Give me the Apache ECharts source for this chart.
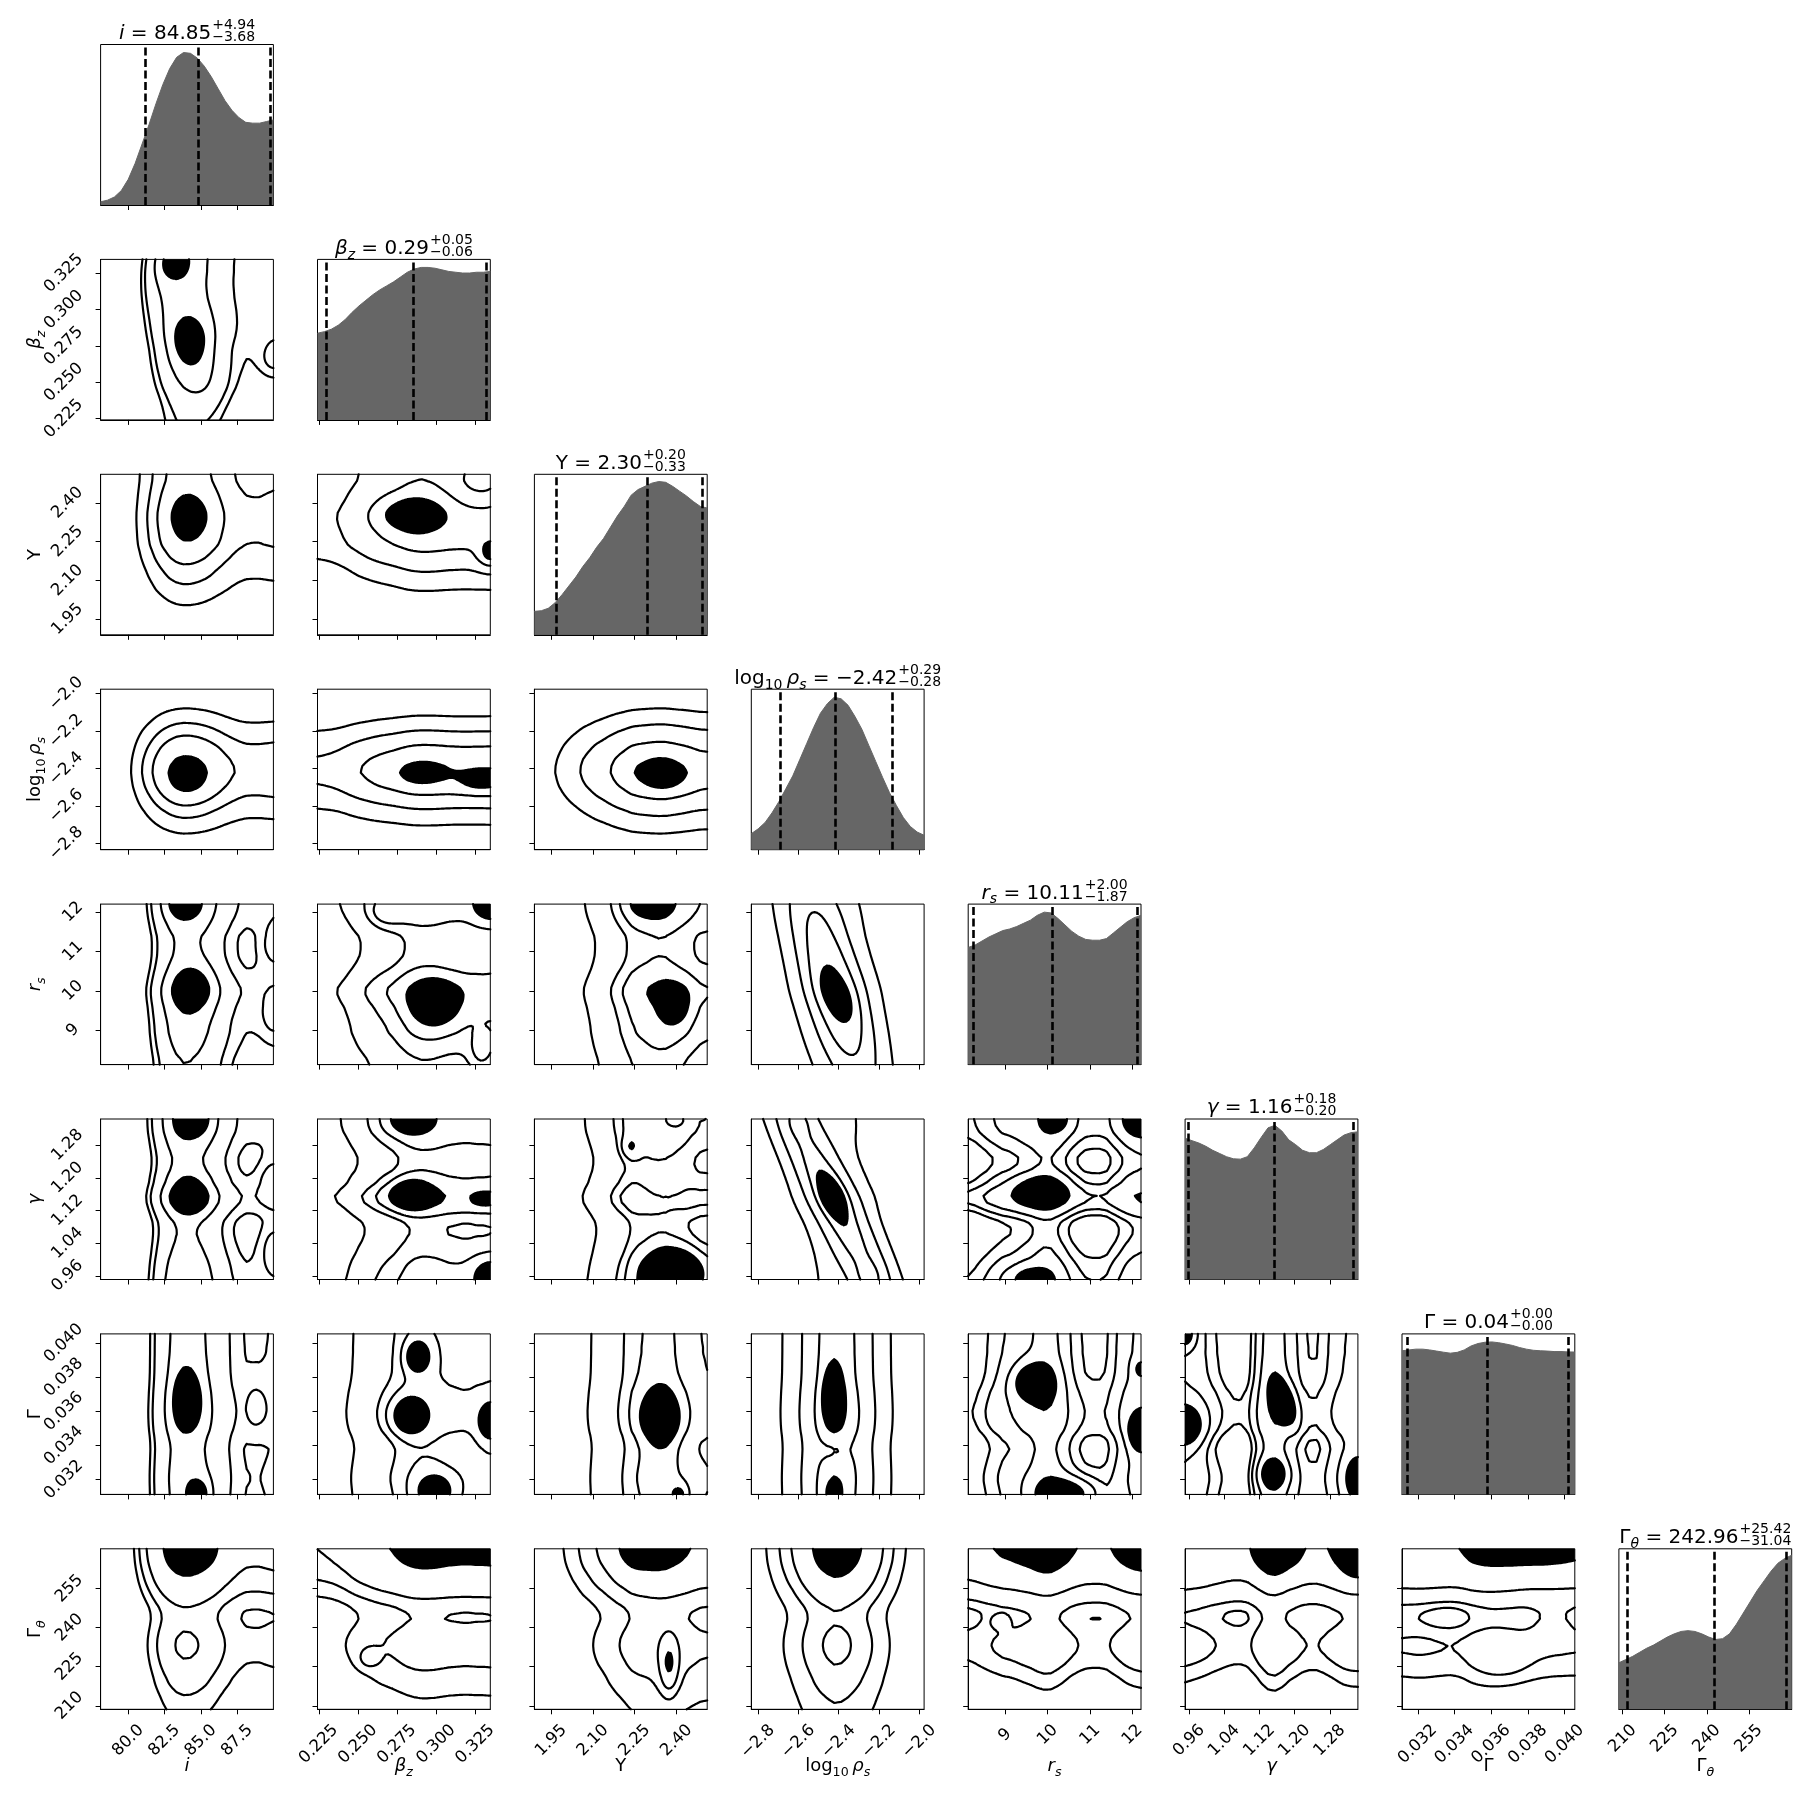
<!DOCTYPE html>
<html>
<head>
<meta charset="utf-8">
<script src="https://cdn.jsdelivr.net/npm/echarts@6/dist/echarts.min.js"></script>
<style>
html, body { margin: 0; padding: 0; background: #fff; }
#main { width: 1809px; height: 1809px; }
</style>
</head>
<body>
<div id="main"></div>
<script>
// ---- parameters: axis ranges, ticks ----
const rangeMin = [78.1, 0.2242, 1.89, -2.833, 8.125, 0.951, 0.03114, 208.65];
const rangeMax = [90.0, 0.3346, 2.51, -1.976, 12.2, 1.344, 0.04055, 270.3];
const tickValues = [
  [80, 82.5, 85, 87.5],
  [0.225, 0.25, 0.275, 0.3, 0.325],
  [1.95, 2.1, 2.25, 2.4],
  [-2.8, -2.6, -2.4, -2.2, -2.0],
  [9, 10, 11, 12],
  [0.96, 1.04, 1.12, 1.2, 1.28],
  [0.032, 0.034, 0.036, 0.038, 0.040],
  [210, 225, 240, 255]
];
const tickLabels = [
  ['80.0', '82.5', '85.0', '87.5'],
  ['0.225', '0.250', '0.275', '0.300', '0.325'],
  ['1.95', '2.10', '2.25', '2.40'],
  ['\u22122.8', '\u22122.6', '\u22122.4', '\u22122.2', '\u22122.0'],
  ['9', '10', '11', '12'],
  ['0.96', '1.04', '1.12', '1.20', '1.28'],
  ['0.032', '0.034', '0.036', '0.038', '0.040'],
  ['210', '225', '240', '255']
];
// axis names as math pieces: [text, style] (i = italic, n = normal, sub / isub = subscript)
const labelParts = [
  [['i', 'i']],
  [['\u03b2', 'i'], ['z', 'isub']],
  [['Y', 'n']],
  [['log', 'n'], ['10', 'sub'], ['\u2009', 'n'], ['\u03c1', 'i'], ['s', 'isub']],
  [['r', 'i'], ['s', 'isub']],
  [['\u03b3', 'i']],
  [['\u0393', 'n']],
  [['\u0393', 'n'], ['\u03b8', 'isub']]
];

// ---- 1D marginals (height as fraction of panel, 26 evenly spaced points across the axis range) ----
const histI = [0.02, 0.03, 0.05, 0.09, 0.16, 0.26, 0.38, 0.50, 0.63, 0.75, 0.85, 0.92, 0.95, 0.945, 0.915, 0.865, 0.80, 0.725, 0.65, 0.59, 0.545, 0.515, 0.51, 0.51, 0.52, 0.53];
const histBeta = [0.54, 0.55, 0.565, 0.59, 0.625, 0.67, 0.71, 0.745, 0.78, 0.81, 0.835, 0.86, 0.89, 0.92, 0.94, 0.95, 0.95, 0.945, 0.935, 0.925, 0.92, 0.915, 0.915, 0.92, 0.92, 0.925];
const histY = [0.146, 0.15, 0.165, 0.20, 0.25, 0.305, 0.36, 0.425, 0.48, 0.545, 0.60, 0.67, 0.74, 0.80, 0.87, 0.905, 0.925, 0.945, 0.955, 0.95, 0.925, 0.895, 0.865, 0.83, 0.80, 0.79];
const histRho = [0.10, 0.13, 0.17, 0.23, 0.30, 0.38, 0.46, 0.56, 0.66, 0.76, 0.85, 0.91, 0.95, 0.94, 0.90, 0.83, 0.75, 0.65, 0.55, 0.45, 0.355, 0.275, 0.20, 0.145, 0.11, 0.09];
const histRs = [0.73, 0.745, 0.77, 0.795, 0.815, 0.835, 0.845, 0.86, 0.88, 0.90, 0.93, 0.95, 0.945, 0.91, 0.87, 0.83, 0.80, 0.78, 0.775, 0.775, 0.785, 0.82, 0.855, 0.89, 0.915, 0.93];
const histGamma = [0.88, 0.865, 0.85, 0.83, 0.805, 0.785, 0.765, 0.752, 0.75, 0.765, 0.82, 0.885, 0.945, 0.96, 0.925, 0.87, 0.84, 0.805, 0.79, 0.79, 0.81, 0.84, 0.87, 0.90, 0.915, 0.92];
const histG = [0.895, 0.9, 0.905, 0.905, 0.9, 0.893, 0.886, 0.88, 0.885, 0.9, 0.925, 0.94, 0.948, 0.95, 0.945, 0.937, 0.928, 0.915, 0.905, 0.898, 0.895, 0.893, 0.89, 0.89, 0.888, 0.887];
const histGth = [0.29, 0.31, 0.33, 0.355, 0.38, 0.40, 0.425, 0.45, 0.47, 0.485, 0.49, 0.485, 0.47, 0.45, 0.435, 0.44, 0.47, 0.53, 0.60, 0.67, 0.74, 0.80, 0.86, 0.91, 0.94, 0.96];
const hists = [histI, histBeta, histY, histRho, histRs, histGamma, histG, histGth];

// quantiles (16 / 50 / 84 %) and title strings
const q16 = [81.17, 0.2296, 1.968, -2.69, 8.235, 0.959, 0.03142, 211.7];
const q50 = [84.85, 0.2853, 2.295, -2.416, 10.10, 1.154, 0.03577, 242.8];
const q84 = [89.79, 0.3322, 2.494, -2.136, 12.107, 1.334, 0.04021, 268.5];
const titleMedian = ['84.85', '0.29', '2.30', '\u22122.42', '10.11', '1.16', '0.04', '242.96'];
const titlePlus = ['4.94', '0.05', '0.20', '0.29', '2.00', '0.18', '0.00', '25.42'];
const titleMinus = ['3.68', '0.06', '0.33', '0.28', '1.87', '0.20', '0.00', '31.04'];

// ---- 2D local density peaks: [x, y, sx, sy, amp, rho] in data units ----
const peaksBI = [[84.29, 0.2772, 0.95, 0.0121, 0.35, 0], [83.1, 0.3324, 0.83, 0.0088, 0.35, 0], [85.2, 0.2463, 1.43, 0.0166, 0.2, 0], [81.7, 0.3180, 0.95, 0.0166, 0.15, 0], [90.0, 0.2662, 0.71, 0.0088, 0.15, 0]];
const peaksYI = [[84.29, 2.349, 0.95, 0.062, 0.2, 0]];
const peaksYB = [[0.2838, 2.355, 0.0132, 0.0434, 0.3, 0], [0.3346, 2.2, 0.0055, 0.0372, 0.3, 0], [0.3291, 2.479, 0.0132, 0.0744, -0.25, 0]];
const peaksRI = [[84.05, -2.464, 0.95, 0.069, 0.15, 0]];
const peaksRB = [[0.2904, -2.430, 0.011, 0.043, 0.15, 0], [0.3291, -2.473, 0.011, 0.043, 0.2, 0]];
const peaksRY = [[2.355, -2.447, 0.062, 0.06, 0.15, 0]];
const peaksSI = [[84.53, 10.08, 0.95, 0.41, 0.2, 0], [83.81, 12.2, 0.83, 0.245, 0.2, 0], [90, 11.18, 0.71, 0.41, 0.15, 0], [90, 9.35, 0.6, 0.33, 0.12, 0]];
const peaksSB = [[0.2993, 9.67, 0.011, 0.41, 0.35, 0], [0.3346, 12.2, 0.0077, 0.33, 0.25, 0], [0.2684, 11.99, 0.0077, 0.245, 0.15, 0], [0.3291, 8.45, 0.0055, 0.33, 0.15, 0]];
const peaksSY = [[2.398, 9.59, 0.043, 0.41, 0.2, 0], [2.299, 12.2, 0.062, 0.285, 0.15, 0]];
const peaksSR = [[-2.43, 10.16, 0.193, 2.445, 3.0, -0.75], [-2.405, 9.84, 0.06, 0.41, 0.8, -0.5]];
const peaksGI = [[84.29, 1.155, 0.83, 0.031, 0.2, 0], [84.53, 1.344, 0.83, 0.0275, 0.2, 0], [90, 1.195, 0.71, 0.039, 0.15, 0], [90, 1.030, 0.71, 0.047, 0.15, 0]];
const peaksGB = [[0.2838, 1.159, 0.0088, 0.0236, 0.35, 0], [0.2827, 1.344, 0.0088, 0.0236, 0.3, 0], [0.3346, 0.959, 0.0077, 0.031, 0.25, 0], [0.3313, 1.148, 0.0055, 0.012, 0.15, 0]];
const peaksGY = [[2.398, 0.971, 0.074, 0.039, 0.4, 0], [2.231, 1.273, 0.025, 0.02, 0.15, 0], [2.349, 1.167, 0.062, 0.039, -0.2, 0], [2.37, 1.344, 0.05, 0.03, -0.15, 0]];
const peaksGR = [[-2.43, 1.148, 0.255, 0.236, 3.0, -0.93], [-2.43, 1.155, 0.05, 0.035, 0.8, -0.3], [-2.593, 1.344, 0.05, 0.03, 0.8, 0], [-2.25, 0.951, 0.05, 0.03, 0.8, 0]];
const peaksGS = [[9.84, 1.167, 0.41, 0.0236, 0.3, 0], [10.2, 1.344, 0.2, 0.02, 0.2, 0], [12.2, 1.344, 0.285, 0.0275, 0.25, 0], [9.63, 0.951, 0.33, 0.02, 0.25, 0]];
const peaksTI = [[84.05, 0.03679, 0.71, 0.00122, 0.25, 0], [84.88, 0.03114, 0.6, 0.00066, 0.25, 0], [88.8, 0.03632, 0.6, 0.00113, 0.1, 0]];
const peaksTB = [[0.2882, 0.03923, 0.0055, 0.00066, 0.35, 0], [0.2827, 0.03575, 0.0077, 0.00075, 0.35, 0], [0.3346, 0.03537, 0.0055, 0.00085, 0.3, 0], [0.2993, 0.03133, 0.0077, 0.00066, 0.35, 0]];
const peaksTY = [[2.343, 0.03556, 0.043, 0.00113, 0.25, 0], [2.411, 0.03114, 0.025, 0.00047, 0.15, 0]];
const peaksTR = [[-2.43, 0.03697, 0.034, 0.00113, 0.3, 0], [-2.43, 0.03114, 0.043, 0.00075, 0.12, 0], [-2.42, 0.03368, 0.05, 0.00056, -0.1, 0]];
const peaksTS = [[9.67, 0.03773, 0.33, 0.00075, 0.3, 0], [10.45, 0.03114, 0.49, 0.00066, 0.3, 0], [12.2, 0.03472, 0.2, 0.00075, 0.3, 0], [12.2, 0.0385, 0.12, 0.00038, 0.15, 0]];
const peaksTG = [[0.951, 0.03509, 0.0275, 0.00085, 0.3, 0], [0.951, 0.04055, 0.0157, 0.00056, 0.25, 0], [1.175, 0.0366, 0.0197, 0.00094, 0.3, -0.5], [1.151, 0.03236, 0.0197, 0.00056, 0.25, 0], [1.344, 0.03208, 0.0197, 0.00094, 0.25, 0]];
const peaksHI = [[84.53, 270.3, 1.19, 4.9, 0.15, 0]];
const peaksHB = [[0.2573, 228.4, 0.0044, 2.5, 0.15, 0]];
const peaksHY = [[2.25, 270.3, 0.05, 4.9, 0.15, 0], [2.374, 225.9, 0.022, 7.0, 0.45, 0]];
const peaksHR = [[-2.413, 270.3, 0.069, 4.9, 0.1, 0]];
const peaksHS = [[8.86, 242.6, 0.16, 1.9, 0.1, 0]];
const peaksHG = [[1.159, 270.3, 0.039, 6.2, 0.15, 0], [1.344, 265.4, 0.0275, 6.2, 0.15, 0], [0.951, 270.3, 0.0236, 6.2, -0.1, 0]];
const peaksHT = [[0.03867, 270.3, 0.00141, 4.9, 0.1, 0], [0.03255, 270.3, 0.00094, 6.2, -0.08, 0], [0.0335, 244.0, 0.0011, 3.7, -0.08, 0], [0.0366, 227.1, 0.0011, 4.9, 0.08, 0], [0.0394, 242.6, 0.0009, 6.2, 0.06, 0]];

// row r -> list of peaks for columns 0..r-1
const panelPeaks = [
  [],
  [peaksBI],
  [peaksYI, peaksYB],
  [peaksRI, peaksRB, peaksRY],
  [peaksSI, peaksSB, peaksSY, peaksSR],
  [peaksGI, peaksGB, peaksGY, peaksGR, peaksGS],
  [peaksTI, peaksTB, peaksTY, peaksTR, peaksTS, peaksTG],
  [peaksHI, peaksHB, peaksHY, peaksHR, peaksHS, peaksHG, peaksHT]
];

// ---- layout ----
const GL = 100.6, GT = 44.5, PW = 172.8, PH = 160.5, SX = 216.9, SY = 214.9;
const FONT = '"DejaVu Sans"';
const TICK_FS = 16.5, NAME_FS = 18, TITLE_FS = 20;
const NG = 72;
const massLevels = [0.865, 0.675, 0.393, 0.118];

function marginal(p, x) {
  const h = hists[p];
  const u = (x - rangeMin[p]) / (rangeMax[p] - rangeMin[p]) * (h.length - 1);
  const k = Math.max(0, Math.min(h.length - 2, Math.floor(u)));
  const t = u - k;
  return h[k] * (1 - t) + h[k + 1] * t;
}

function densityGrid(c, r, peaks) {
  const xs = [], ys = [], f = [];
  for (let k = 0; k < NG; k++) {
    xs.push(rangeMin[c] + (rangeMax[c] - rangeMin[c]) * k / (NG - 1));
    ys.push(rangeMin[r] + (rangeMax[r] - rangeMin[r]) * k / (NG - 1));
  }
  for (let j = 0; j < NG; j++) {
    const row = [];
    const my = marginal(r, ys[j]);
    for (let i = 0; i < NG; i++) {
      let v = marginal(c, xs[i]) * my;
      for (const p of peaks) {
        const dx = (xs[i] - p[0]) / p[2], dy = (ys[j] - p[1]) / p[3], rho = p[5] || 0;
        const q = (dx * dx - 2 * rho * dx * dy + dy * dy) / (1 - rho * rho);
        v += p[4] * Math.exp(-0.5 * q);
      }
      row.push(Math.max(v, 0));
    }
    f.push(row);
  }
  return { xs, ys, f };
}

function hpdLevels(f) {
  const vals = [].concat(...f).sort((a, b) => b - a);
  const tot = vals.reduce((a, b) => a + b, 0);
  return massLevels.map(m => {
    let cum = 0;
    for (const v of vals) { cum += v; if (cum >= m * tot) return v; }
    return vals[vals.length - 1];
  });
}

// marching triangles: line segments per level + filled polygons above the top level
function contourGeometry(grid) {
  const { xs, ys, f } = grid;
  const levels = hpdLevels(f);
  const top = levels[levels.length - 1];
  const segs = [], fills = [];
  const cut = (a, b, L) => {
    const t = (L - a[2]) / (b[2] - a[2]);
    return [a[0] + t * (b[0] - a[0]), a[1] + t * (b[1] - a[1])];
  };
  for (let j = 0; j < NG - 1; j++) {
    for (let i = 0; i < NG - 1; i++) {
      const P0 = [xs[i], ys[j], f[j][i]], P1 = [xs[i + 1], ys[j], f[j][i + 1]];
      const P2 = [xs[i + 1], ys[j + 1], f[j + 1][i + 1]], P3 = [xs[i], ys[j + 1], f[j + 1][i]];
      for (const tri of [[P0, P1, P2], [P0, P2, P3]]) {
        for (const L of levels) {
          const pts = [];
          for (let e = 0; e < 3; e++) {
            const a = tri[e], b = tri[(e + 1) % 3];
            if ((a[2] >= L) !== (b[2] >= L)) pts.push(cut(a, b, L));
          }
          if (pts.length === 2) segs.push(pts);
        }
        const poly = [];
        for (let e = 0; e < 3; e++) {
          const a = tri[e], b = tri[(e + 1) % 3];
          if (a[2] >= top) poly.push([a[0], a[1]]);
          if ((a[2] >= top) !== (b[2] >= top)) poly.push(cut(a, b, top));
        }
        if (poly.length >= 3) fills.push(poly);
      }
    }
  }
  return { segs, fills };
}

// ---- text measuring for math-like labels ----
const mctx = document.createElement('canvas').getContext('2d');
function measure(t, size, it) {
  mctx.font = (it ? 'italic ' : '') + size + 'px ' + FONT;
  return mctx.measureText(t).width;
}
function layoutParts(parts, fs) {
  let x = 0;
  const items = [];
  for (const [t, st] of parts) {
    const sub = st === 'sub' || st === 'isub';
    const it = st === 'i' || st === 'isub';
    const size = sub ? fs * 0.7 : fs;
    items.push({ t, x, dy: sub ? fs * 0.22 : 0, size, it });
    x += measure(t, size, it);
  }
  return { items, width: x };
}
// y given as text baseline
function textEl(t, x, y, size, it) {
  return {
    type: 'text', x: x, y: y - 0.346 * size, silent: true,
    style: { text: t, font: (it ? 'italic ' : '') + size.toFixed(2) + 'px ' + FONT, fill: '#000', align: 'left', verticalAlign: 'middle' }
  };
}

function tickText(p, v) {
  const k = tickValues[p].findIndex(t => Math.abs(t - v) < 1e-9);
  return k >= 0 ? tickLabels[p][k] : '';
}
function labelBox(p) {
  const w = Math.max(...tickLabels[p].map(s => measure(s, TICK_FS, false)));
  return (w + 0.72 * TICK_FS) / Math.SQRT2;
}

function axisFor(p, g, showLabel, dim) {
  return {
    type: 'value', gridIndex: g, min: rangeMin[p], max: rangeMax[p],
    axisLine: { show: true, onZero: false, lineStyle: { color: '#000', width: 1 } },
    axisTick: { show: true, inside: false, length: 5, customValues: tickValues[p], lineStyle: { color: '#000', width: 1 } },
    axisLabel: {
      show: showLabel, customValues: tickValues[p], formatter: v => tickText(p, v),
      rotate: 45, align: 'center', verticalAlign: 'middle',
      margin: (dim === 'x' ? 14 : 16) + labelBox(p) / 2,
      fontSize: TICK_FS, fontFamily: FONT, color: '#000'
    },
    splitLine: { show: false }
  };
}

const grids = [], xAxes = [], yAxes = [], series = [], graphics = [];
let g = 0;
for (let r = 0; r < 8; r++) {
  for (let c = 0; c <= r; c++) {
    grids.push({ left: GL + SX * c, top: GT + SY * r, width: PW, height: PH, show: true, borderColor: '#000', borderWidth: 1, backgroundColor: 'transparent' });
    xAxes.push(axisFor(c, g, r === 7, 'x'));
    if (r === c) {
      yAxes.push({ type: 'value', gridIndex: g, min: 0, max: 1, axisLine: { show: false }, axisTick: { show: false }, axisLabel: { show: false }, splitLine: { show: false } });
      const h = hists[c], n = h.length;
      series.push({
        type: 'line', xAxisIndex: g, yAxisIndex: g, silent: true, symbol: 'none', z: 2,
        data: h.map((v, k) => [rangeMin[c] + k * (rangeMax[c] - rangeMin[c]) / (n - 1), v]),
        lineStyle: { width: 1, color: '#666666' },
        areaStyle: { color: '#666666', opacity: 1 },
        markLine: {
          silent: true, precision: 8, symbol: ['none', 'none'], label: { show: false }, emphasis: { disabled: true },
          lineStyle: { color: '#000', type: [8, 3.5], width: 2.6 },
          data: [{ xAxis: q16[c] }, { xAxis: q50[c] }, { xAxis: q84[c] }]
        }
      });
    } else {
      yAxes.push(axisFor(r, g, c === 0, 'y'));
      const geo = contourGeometry(densityGrid(c, r, panelPeaks[r][c]));
      series.push({
        type: 'custom', xAxisIndex: g, yAxisIndex: g, silent: true, z: 3,
        data: [[rangeMin[c], rangeMin[r]]],
        renderItem: function (params, api) {
          const fmt = p => p[0].toFixed(2) + ' ' + p[1].toFixed(2);
          let fillD = '';
          for (const poly of geo.fills) {
            fillD += 'M' + poly.map(pt => fmt(api.coord(pt))).join('L') + 'Z';
          }
          let lineD = '';
          for (const s of geo.segs) {
            lineD += 'M' + fmt(api.coord(s[0])) + 'L' + fmt(api.coord(s[1]));
          }
          return {
            type: 'group',
            children: [
              { type: 'path', shape: { pathData: fillD || 'M0 0' }, style: { fill: '#000', stroke: 'none' } },
              { type: 'path', shape: { pathData: lineD || 'M0 0' }, style: { fill: 'none', stroke: '#000', lineWidth: 2.2, lineCap: 'round', lineJoin: 'round' } }
            ]
          };
        }
      });
    }
    g++;
  }
}

// titles over the diagonal panels
for (let k = 0; k < 8; k++) {
  const ss = TITLE_FS * 0.7;
  const lay = layoutParts(labelParts[k].concat([[' = ' + titleMedian[k], 'n']]), TITLE_FS);
  const sup = '+' + titlePlus[k], sub = '\u2212' + titleMinus[k];
  const total = lay.width + 1 + Math.max(measure(sup, ss, false), measure(sub, ss, false));
  const x0 = GL + SX * k + PW / 2 - total / 2;
  const base = GT + SY * k - 3.8;
  lay.items.forEach(it => graphics.push(textEl(it.t, x0 + it.x, base + it.dy, it.size, it.it)));
  graphics.push(textEl(sup, x0 + lay.width + 1, base - 10.5, ss, false));
  graphics.push(textEl(sub, x0 + lay.width + 1, base + 1.5, ss, false));
}
// x names under bottom row
for (let k = 0; k < 8; k++) {
  const lay = layoutParts(labelParts[k], NAME_FS);
  const x0 = GL + SX * k + PW / 2 - lay.width / 2;
  lay.items.forEach(it => graphics.push(textEl(it.t, x0 + it.x, 1773 + it.dy, it.size, it.it)));
}
// y names left of first column (rotated)
for (let k = 1; k < 8; k++) {
  const lay = layoutParts(labelParts[k], NAME_FS);
  const children = lay.items.map(it => textEl(it.t, -lay.width / 2 + it.x, it.dy, it.size, it.it));
  graphics.push({ type: 'group', x: 42, y: GT + SY * k + PH / 2, rotation: Math.PI / 2, children: children });
}

const chart = echarts.init(document.getElementById('main'), null, { width: 1809, height: 1809 });
chart.setOption({
  animation: false,
  backgroundColor: '#ffffff',
  textStyle: { fontFamily: FONT },
  grid: grids,
  xAxis: xAxes,
  yAxis: yAxes,
  series: series,
  graphic: { elements: graphics }
});
</script>
</body>
</html>
